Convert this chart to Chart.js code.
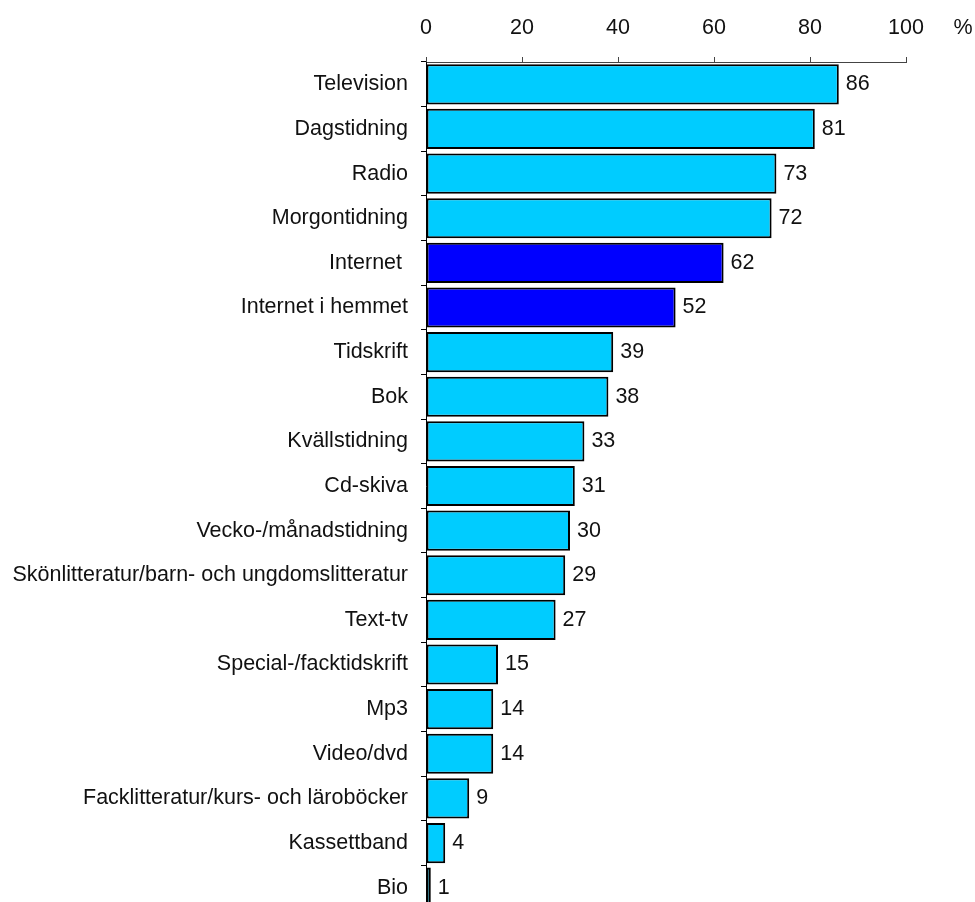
<!DOCTYPE html>
<html>
<head>
<meta charset="utf-8">
<script src="https://cdn.jsdelivr.net/npm/chart.js@4"></script>
<style>
  html, body { margin: 0; padding: 0; background: #fff; overflow: hidden; }
  #wrap { position: relative; width: 975px; height: 910px; }
</style>
</head>
<body>
<div id="wrap"><canvas id="mediaChart"></canvas></div>
<script>
const categories = [
    'Television', 'Dagstidning', 'Radio', 'Morgontidning', 'Internet ',
    'Internet i hemmet', 'Tidskrift', 'Bok', 'Kvällstidning', 'Cd-skiva',
    'Vecko-/månadstidning', 'Skönlitteratur/barn- och ungdomslitteratur', 'Text-tv',
    'Special-/facktidskrift', 'Mp3', 'Video/dvd', 'Facklitteratur/kurs- och läroböcker',
    'Kassettband', 'Bio'
];
const values = [86, 81, 73, 72, 62, 52, 39, 38, 33, 31, 30, 29, 27, 15, 14, 14, 9, 4, 1];
const highlighted = ['Internet ', 'Internet i hemmet'];
const xTicks = [0, 20, 40, 60, 80, 100];
const unitLabel = '%';

const FONT = 'Arial, "Liberation Sans", sans-serif';
const FONT_SIZE = 21.5;

const barColors = categories.map(c => highlighted.includes(c) ? '#0000FF' : '#00CCFF');

// value labels at the end of each bar + the % unit after the top axis
const labelsPlugin = {
    id: 'barLabels',
    afterDatasetsDraw(chart) {
        const ctx = chart.ctx;
        const meta = chart.getDatasetMeta(0);
        ctx.save();
        ctx.font = FONT_SIZE + 'px ' + FONT;
        ctx.fillStyle = '#111';
        ctx.textAlign = 'left';
        ctx.textBaseline = 'middle';
        meta.data.forEach((bar, i) => {
            ctx.fillText(String(values[i]), bar.x + 7, bar.y);
        });
        ctx.textAlign = 'center';
        ctx.fillText(unitLabel, chart.chartArea.right + 57, 28);
        ctx.restore();
    }
};

const ctx = document.getElementById('mediaChart').getContext('2d');
new Chart(ctx, {
    type: 'bar',
    data: {
        labels: categories,
        datasets: [{
            data: values,
            backgroundColor: barColors,
            borderColor: '#000',
            borderWidth: 2,
            borderSkipped: false,
            barPercentage: 0.9,
            categoryPercentage: 1
        }]
    },
    options: {
        indexAxis: 'y',
        responsive: true,
        maintainAspectRatio: false,
        animation: false,
        layout: { padding: { left: 0, right: 69, top: 0, bottom: 0 } },
        plugins: {
            legend: { display: false },
            tooltip: { enabled: false }
        },
        scales: {
            x: {
                position: 'top',
                min: 0,
                max: 100,
                afterBuildTicks: axis => { axis.ticks = xTicks.map(v => ({ value: v })); },
                afterFit: axis => { axis.height = 62; },
                border: { display: true, color: '#444', width: 1 },
                grid: { drawOnChartArea: false, drawTicks: true, tickLength: 5, color: '#444' },
                ticks: { color: '#111', font: { size: FONT_SIZE, family: FONT }, padding: 16 }
            },
            y: {
                afterFit: axis => {
                    axis.width = 426;
                    axis.paddingTop = 0;
                    axis.paddingBottom = 0;
                },
                border: { display: true, color: '#000', width: 1 },
                grid: { offset: true, drawOnChartArea: false, drawTicks: true, tickLength: 5, color: '#000' },
                ticks: { color: '#111', font: { size: FONT_SIZE, family: FONT }, padding: 13, autoSkip: false }
            }
        }
    },
    plugins: [labelsPlugin]
});
</script>
</body>
</html>
